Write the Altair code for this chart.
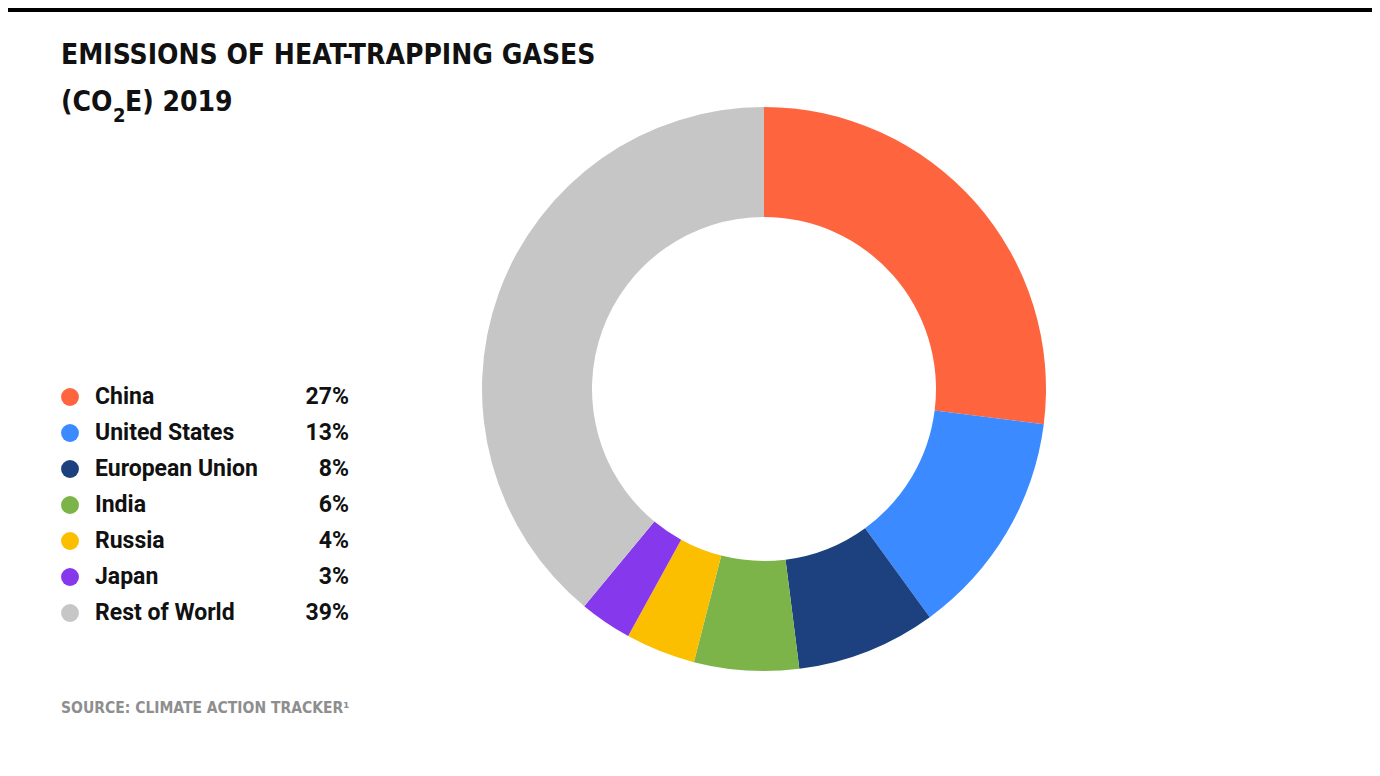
import altair as alt
import pandas as pd

countries = ["China", "United States", "European Union", "India", "Russia", "Japan", "Rest of World"]
shares = [27, 13, 8, 6, 4, 3, 39]
pct_labels = ["27%", "13%", "8%", "6%", "4%", "3%", "39%"]
colors = ["#FE653F", "#3C8AFF", "#1C417E", "#7DB449", "#FBBF00", "#8639EC", "#C6C6C6"]

title_line1 = "EMISSIONS OF HEAT-TRAPPING GASES"
title_line2_a = "(CO"
title_line2_sub = "2"
title_line2_b = "E) 2019"
source_text = "SOURCE: CLIMATE ACTION TRACKER\u00b9"

df = pd.DataFrame({
    "country": countries,
    "share": shares,
    "pct": pct_labels,
    "order": list(range(len(countries))),
})

W, H = 1364, 760
COND = "'DejaVu Sans Condensed', 'Liberation Sans Narrow', Roboto, sans-serif"
BODY = "Roboto, sans-serif"

color_enc = alt.Color("country:N", scale=alt.Scale(domain=countries, range=colors), legend=None)
y_enc = alt.Y("country:N", sort=countries, scale=alt.Scale(range=[389, 605], padding=0), axis=None)

base = alt.Chart(df)

donut = base.mark_arc(innerRadius=172, outerRadius=282).encode(
    theta=alt.Theta("share:Q", stack=True),
    color=color_enc,
    order=alt.Order("order:Q"),
    x=alt.value(756),
    y=alt.value(381),
)

dots = base.mark_circle(size=320, opacity=1).encode(
    x=alt.value(62), y=y_enc, color=color_enc
)
names = base.mark_text(align="left", baseline="middle", font=BODY, fontSize=23,
                       fontWeight="bold", color="#111111").encode(
    x=alt.value(87), y=y_enc, text="country:N"
)
pcts = base.mark_text(align="right", baseline="middle", font=BODY, fontSize=23,
                      fontWeight="bold", color="#111111").encode(
    x=alt.value(341), y=y_enc, text="pct:N"
)

def txt(s, x, y, size, color="#111111", font=COND, weight="bold"):
    return alt.Chart(pd.DataFrame({"t": [s]})).mark_text(
        align="left", baseline="alphabetic", font=font, fontSize=size,
        fontWeight=weight, color=color
    ).encode(text="t:N", x=alt.value(x), y=alt.value(y))

t1 = txt(title_line1, 53, 56, 28)
t2a = txt(title_line2_a, 53, 103, 28)
t2s = txt(title_line2_sub, 105, 114, 20)
t2b = txt(title_line2_b, 117, 103, 28)
src = txt(source_text, 53, 705, 15.5, color="#8E8E8E")

topbar = alt.Chart(pd.DataFrame({"a": [0]})).mark_rect(color="#000000").encode(
    x=alt.value(0), x2=alt.value(W), y=alt.value(0), y2=alt.value(4)
)

chart = alt.layer(topbar, donut, dots, names, pcts, t1, t2a, t2s, t2b, src).properties(
    width=W, height=H, padding=0, autosize=alt.AutoSizeParams(type="none"),
    background="#FFFFFF"
).configure_view(stroke=None)

chart.save("out.html", embed_options={"renderer": "svg", "actions": False})
